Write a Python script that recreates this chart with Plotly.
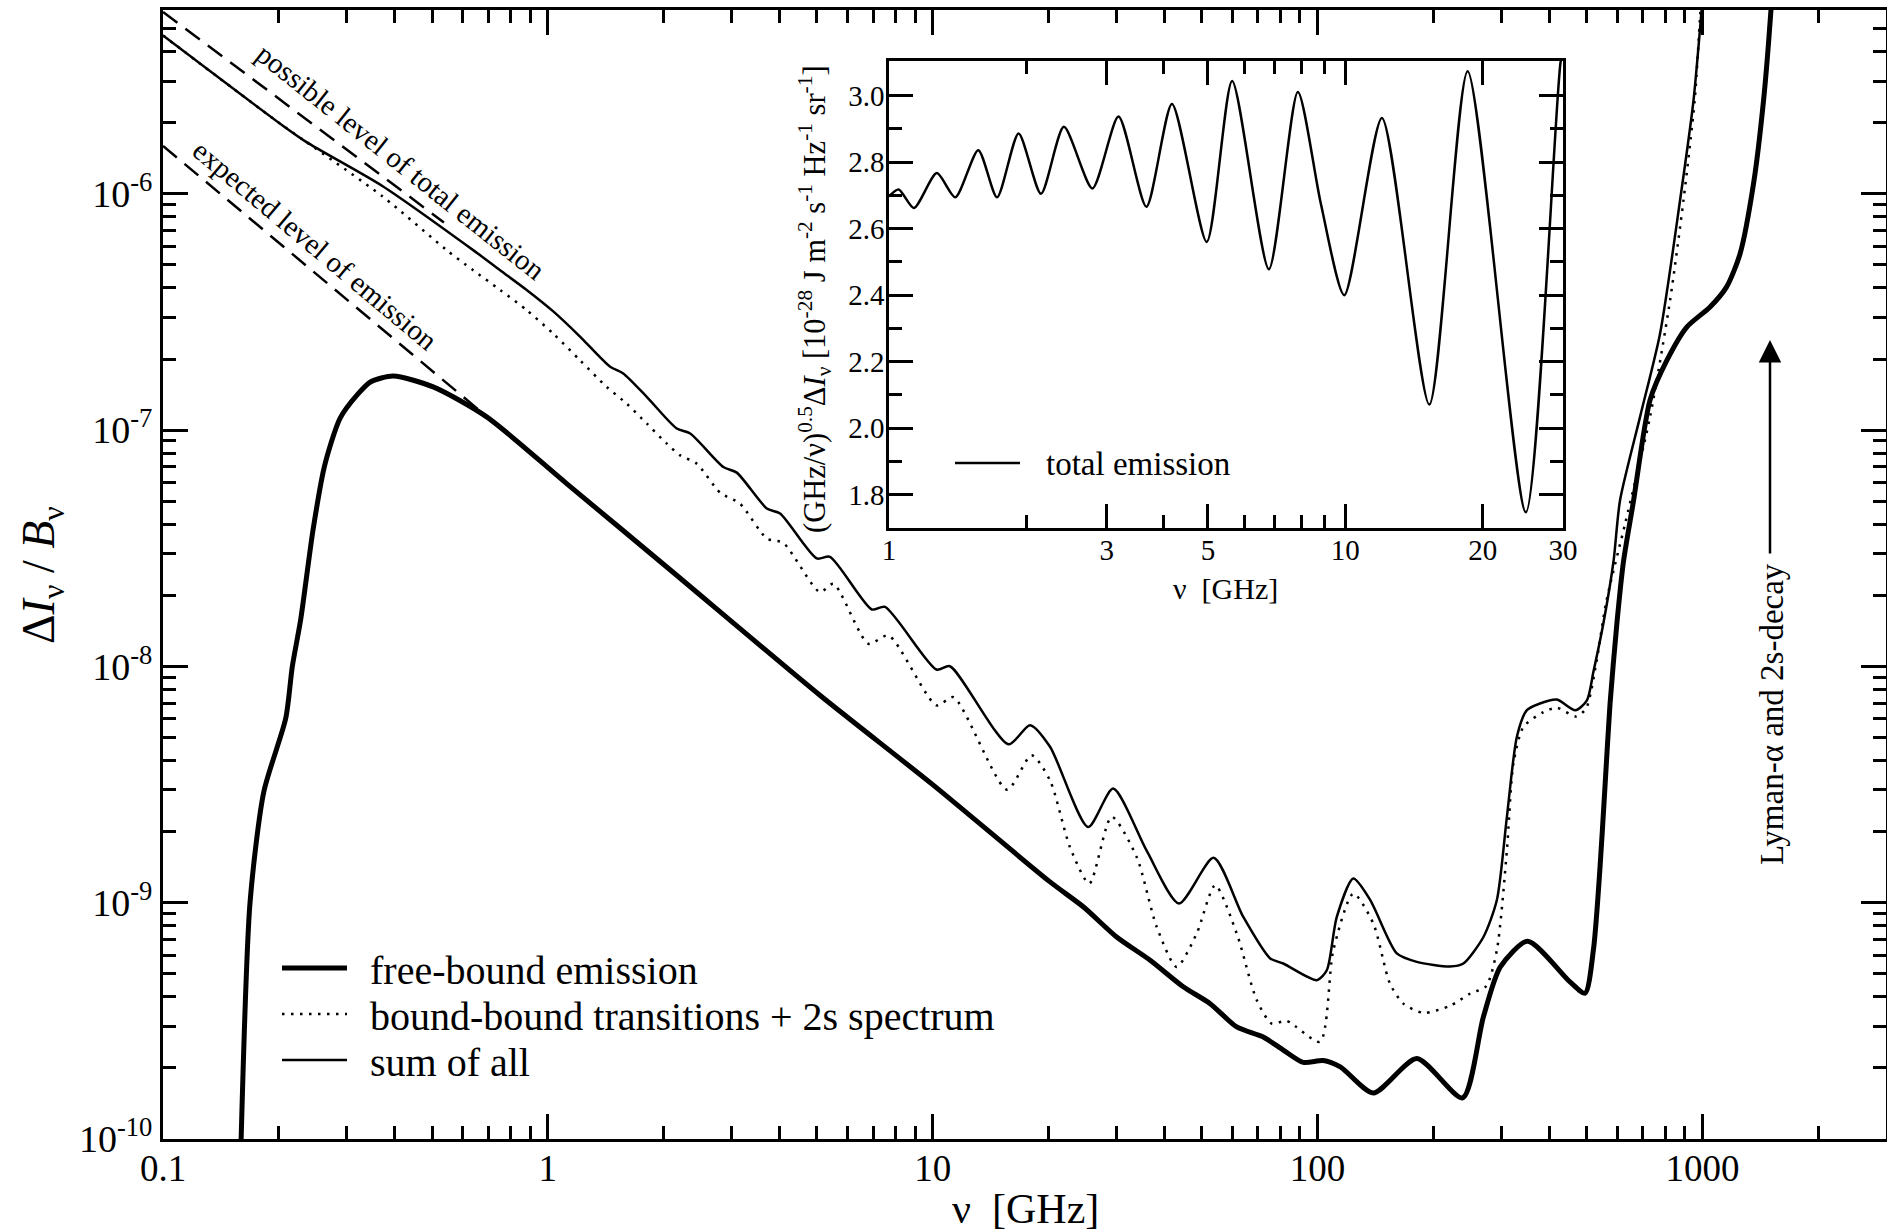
import numpy as np
import plotly.graph_objects as go

# --- main panel: Delta I_nu / B_nu versus nu [GHz] ---
# free-bound emission (thick line)
fb_nu = [0.1596, 0.1683, 0.1828, 0.2084, 0.2168, 0.228, 0.2455, 0.263, 0.2884, 0.3199,
         0.3467, 0.3963, 0.5035, 0.6934, 1.119, 2.037, 5.093, 10.0, 20.18, 24.66,
         30.06, 36.73, 44.77, 52.6, 61.66, 72.28, 81.47, 91.83, 103.5, 114.6,
         139.6, 181.1, 238.2, 269.8, 298.5, 351.6, 452.9, 495.5, 521.2, 542.0,
         558.5, 575.4, 599.8, 623.7, 662.2, 731.1, 809.1, 912.0, 1047, 1156,
         1253, 1358, 1442, 1507, 1549]
fb_val = [1.0e-10, 1.0e-9, 2.95e-9, 6.03e-9, 1.0e-8, 1.585e-8, 3.8e-8, 7.08e-8, 1.122e-7, 1.413e-7,
          1.603e-7, 1.694e-7, 1.524e-7, 1.138e-7, 5.94e-8, 2.636e-8, 7.55e-9, 3.16e-9, 1.225e-9, 9.59e-10,
          7.16e-10, 5.71e-10, 4.41e-10, 3.74e-10, 2.98e-10, 2.7e-10, 2.38e-10, 2.11e-10, 2.15e-10, 2.02e-10,
          1.567e-10, 2.19e-10, 1.493e-10, 3.29e-10, 5.35e-10, 6.87e-10, 4.62e-10, 4.14e-10, 6.35e-10, 1.409e-9,
          3.12e-9, 6.92e-9, 1.531e-8, 2.78e-8, 5.01e-8, 1.34e-7, 1.977e-7, 2.735e-7, 3.32e-7, 4.04e-7,
          5.58e-7, 1.104e-6, 2.49e-6, 5.98e-6, 1.26e-5]

# bound-bound transitions + 2s spectrum (dotted line)
bb_nu = [0.1, 0.2, 0.2355, 0.3715, 0.5458, 0.6397, 0.7516, 0.881, 1.033, 1.212,
         1.422, 1.603, 1.807, 2.037, 2.208, 2.438, 2.805, 3.155, 3.707, 4.093,
         5.093, 5.521, 6.808, 7.674, 10.23, 11.32, 15.6, 18.07, 20.18, 22.75,
         25.53, 29.17, 33.88, 38.19, 43.05, 48.53, 54.2, 61.66, 69.5, 76.03,
         83.18, 101.4, 109.9, 123.9, 139.6, 154.2, 167.1, 188.4, 220.8, 249.5,
         274.2, 292.4, 310.5, 322.8, 342.8, 386.4, 418.8, 469.9, 498.9, 529.7,
         562.3, 631.0, 731.1, 824.1, 893.1, 955.0, 986.3, 1012]
bb_val = [4.68e-6, 2.0e-6, 1.66e-6, 9.77e-7, 5.78e-7, 4.75e-7, 3.92e-7, 3.22e-7, 2.56e-7, 1.977e-7,
          1.524e-7, 1.294e-7, 1.067e-7, 8.77e-8, 7.82e-8, 7.21e-8, 5.43e-8, 4.89e-8, 3.48e-8, 3.33e-8,
          2.065e-8, 2.239e-8, 1.247e-8, 1.352e-8, 6.84e-9, 7.41e-9, 3.01e-9, 4.21e-9, 3.29e-9, 1.714e-9,
          1.205e-9, 2.31e-9, 1.563e-9, 7.91e-10, 5.35e-10, 7.41e-10, 1.186e-9, 7.41e-10, 3.87e-10, 3.08e-10,
          3.16e-10, 2.58e-10, 6.3e-10, 1.094e-9, 8.17e-10, 4.55e-10, 3.74e-10, 3.42e-10, 3.66e-10, 4.13e-10,
          4.43e-10, 6.3e-10, 1.667e-9, 3.88e-9, 5.55e-9, 6.41e-9, 6.68e-9, 6.14e-9, 6.65e-9, 1.028e-8,
          1.871e-8, 4.07e-8, 1.138e-7, 3.54e-7, 9.4e-7, 2.49e-6, 5.6e-6, 1.0e-5]

# sum of all (thin line)
sum_nu = [0.1, 0.2, 0.2355, 0.3715, 0.6397, 0.7516, 0.881, 1.033, 1.212, 1.452,
          1.57, 1.807, 2.163, 2.344, 2.858, 3.097, 3.707, 4.013, 5.0, 5.408,
          6.95, 7.516, 10.23, 11.09, 15.74, 17.91, 20.18, 25.35, 29.44, 35.97,
          43.65, 53.7, 64.12, 75.34, 81.47, 99.54, 105.7, 112.2, 123.9, 137.1,
          160.7, 181.1, 220.8, 239.3, 269.8, 292.4, 310.5, 329.6, 349.9, 378.4,
          418.8, 467.7, 501.2, 521.2, 553.4, 587.5, 611.0, 688.7, 776.2, 875.0,
          948.4, 995.4, 1023]
sum_val = [4.68e-6, 2.0e-6, 1.66e-6, 1.08e-6, 5.78e-7, 4.75e-7, 3.92e-7, 3.18e-7, 2.49e-7, 1.854e-7,
           1.738e-7, 1.384e-7, 1.016e-7, 9.68e-8, 6.98e-8, 6.61e-8, 4.66e-8, 4.44e-8, 2.864e-8, 2.911e-8,
           1.742e-8, 1.786e-8, 9.7e-9, 1.002e-8, 4.68e-9, 5.64e-9, 4.57e-9, 2.09e-9, 3.04e-9, 1.66e-9,
           9.93e-10, 1.549e-9, 8.71e-10, 5.81e-10, 5.53e-10, 4.7e-10, 5.18e-10, 8.71e-10, 1.265e-9, 1.026e-9,
           6.1e-10, 5.62e-10, 5.37e-10, 5.53e-10, 7.16e-10, 1.026e-9, 2.31e-9, 5.04e-9, 6.53e-9, 6.97e-9,
           7.24e-9, 6.52e-9, 7.19e-9, 9.51e-9, 1.531e-8, 2.78e-8, 5.05e-8, 1.138e-7, 2.56e-7, 9.4e-7,
           2.49e-6, 5.98e-6, 1.0e-5]

# dashed guide lines
possible_nu = [0.1, 0.537]
possible_val = [5.89e-6, 7.57e-7]
expected_nu = [0.1, 0.752]
expected_val = [1.596e-6, 1.023e-7]

# --- inset: (GHz/nu)^0.5 * total emission ---
inset_nu = [1.0, 1.05, 1.134, 1.273, 1.397, 1.569, 1.725, 1.923, 2.153, 2.417,
            2.791, 3.184, 3.665, 4.17, 4.97, 5.65, 6.8, 7.87, 8.84, 9.95,
            12.03, 15.28, 18.54, 24.87, 29.6, 30.5]
inset_val = [2.697, 2.718, 2.662, 2.767, 2.694, 2.836, 2.694, 2.886, 2.705, 2.906,
             2.721, 2.937, 2.666, 2.975, 2.56, 3.044, 2.478, 3.011, 2.675, 2.4,
             2.933, 2.071, 3.073, 1.747, 3.095, 3.2]

# ticks
x_ticks = [0.1, 1, 10, 100, 1000]
x_ticktext = ["0.1", "1", "10", "100", "1000"]
y_ticks = [1e-10, 1e-9, 1e-8, 1e-7, 1e-6]
y_ticktext = ["10<sup>-10</sup>", "10<sup>-9</sup>", "10<sup>-8</sup>", "10<sup>-7</sup>", "10<sup>-6</sup>"]
inset_x_ticks = [1, 3, 5, 10, 20, 30]
inset_x_ticktext = ["1", "3", "5", "10", "20", "30"]
inset_y_ticks = [1.8, 2.0, 2.2, 2.4, 2.6, 2.8, 3.0]
inset_y_ticktext = ["1.8", "2.0", "2.2", "2.4", "2.6", "2.8", "3.0"]

x_minor = [m * 10.0 ** e for e in range(-1, 4) for m in range(2, 10) if m * 10.0 ** e <= 3000]
y_minor = [m * 10.0 ** e for e in range(-10, -5) for m in range(2, 10) if m * 10.0 ** e <= 6e-6]
inset_x_minor = [2, 4, 6, 7, 8, 9]
inset_y_minor = [1.9, 2.1, 2.3, 2.5, 2.7, 2.9]

FONT = "Liberation Serif"
W, H = 1887, 1231
L, R, T, B = 163, 1, 10, 92


def px_x(x):
    return (x - L) / (W - L - R)


def px_y(y):
    return (H - B - y) / (H - T - B)


fig = go.Figure()

line_kw = dict(color="black", shape="spline", smoothing=0.7)
fig.add_trace(go.Scatter(x=possible_nu, y=possible_val, mode="lines",
                         line=dict(color="black", width=2.5, dash="18px,10px")))
fig.add_trace(go.Scatter(x=expected_nu, y=expected_val, mode="lines",
                         line=dict(color="black", width=2.5, dash="18px,10px")))
fig.add_trace(go.Scatter(x=bb_nu, y=bb_val, mode="lines", name="bound-bound transitions + 2s spectrum",
                         line=dict(width=2.5, dash="2.5px,6.5px", **line_kw)))
fig.add_trace(go.Scatter(x=sum_nu, y=sum_val, mode="lines", name="sum of all",
                         line=dict(width=2.5, **line_kw)))
fig.add_trace(go.Scatter(x=fb_nu, y=fb_val, mode="lines", name="free-bound emission",
                         line=dict(width=5, **line_kw)))
fig.add_trace(go.Scatter(x=inset_nu, y=inset_val, mode="lines", name="total emission",
                         line=dict(width=2.5, **line_kw), xaxis="x2", yaxis="y2"))

axis_kw = dict(showline=True, linecolor="black", mirror="ticks", ticks="inside",
               tickcolor="black", showgrid=False, zeroline=False, automargin=False)

fig.update_layout(
    template="none",
    width=W, height=H, autosize=False,
    margin=dict(l=L, r=R, t=T, b=B, pad=0),
    paper_bgcolor="white", plot_bgcolor="white",
    showlegend=False,
    font=dict(family=FONT, color="black", size=37),
    xaxis=dict(type="log", range=[-1, np.log10(3000)], domain=[0, 1], anchor="y",
               linewidth=3, ticklen=25, tickwidth=2.5, ticklabelstandoff=-5,
               tickvals=x_ticks, ticktext=x_ticktext, tickfont=dict(size=37),
               minor=dict(ticks="inside", ticklen=13, tickwidth=2.5, tickcolor="black", tickvals=x_minor),
               **axis_kw),
    yaxis=dict(type="log", range=[-10, np.log10(6e-6)], domain=[0, 1], anchor="x",
               linewidth=3, ticklen=25, tickwidth=2.5, ticklabelstandoff=0,
               tickvals=y_ticks, ticktext=y_ticktext, tickfont=dict(size=38),
               minor=dict(ticks="inside", ticklen=13, tickwidth=2.5, tickcolor="black", tickvals=y_minor),
               **axis_kw),
    xaxis2=dict(type="log", range=[0, np.log10(30)], domain=[px_x(889), px_x(1563)], anchor="y2",
                linewidth=2.5, ticklen=24, tickwidth=2.5, ticklabelstandoff=-6,
                tickvals=inset_x_ticks, ticktext=inset_x_ticktext, tickfont=dict(size=29),
                minor=dict(ticks="inside", ticklen=13, tickwidth=2.5, tickcolor="black", tickvals=inset_x_minor),
                **axis_kw),
    yaxis2=dict(range=[1.70, 3.104], domain=[px_y(528), px_y(61)], anchor="x2",
                linewidth=2.5, ticklen=24, tickwidth=2.5, ticklabelstandoff=-4,
                tickvals=inset_y_ticks, ticktext=inset_y_ticktext, tickfont=dict(size=29),
                minor=dict(ticks="inside", ticklen=13, tickwidth=2.5, tickcolor="black", tickvals=inset_y_minor),
                **axis_kw),
)

ann = []
# axis titles
ann.append(dict(x=px_x(1025), y=px_y(1208), text="\u03bd\u00a0\u00a0[GHz]", font=dict(size=42), height=43))
ann.append(dict(x=px_x(42), y=px_y(575), text="\u0394<i>I</i><sub>\u03bd</sub> / <i>B</i><sub>\u03bd</sub>",
                textangle=-90, font=dict(size=46)))
ann.append(dict(x=px_x(1225), y=px_y(588), text="\u03bd\u00a0\u00a0[GHz]", font=dict(size=30)))
ann.append(dict(x=px_x(814), y=px_y(299), textangle=-90, font=dict(size=30.5),
                text="(GHz/\u03bd)<sup>0.5</sup>\u0394<i>I</i><sub>\u03bd</sub> [10<sup>-28</sup> J m<sup>-2</sup> "
                     "s<sup>-1</sup> Hz<sup>-1</sup> sr<sup>-1</sup>]"))
# line labels
ann.append(dict(x=px_x(401), y=px_y(162), text="possible level of total emission", textangle=38.5,
                font=dict(size=29)))
ann.append(dict(x=px_x(315), y=px_y(245), text="expected level of emission", textangle=40,
                font=dict(size=29)))
# Lyman-alpha arrow and label
ann.append(dict(x=px_x(1770), y=px_y(340), ax=0, ay=215, text="", showarrow=True,
                arrowhead=2, arrowsize=1.8, arrowwidth=2.5, arrowcolor="black"))
ann.append(dict(x=px_x(1772), y=px_y(714), text="Lyman-\u03b1 and 2s-decay", textangle=-90,
                font=dict(size=33)))

# legend of main panel
legend_rows = [("free-bound emission", 5, "solid", 968),
               ("bound-bound transitions + 2s spectrum", 2.5, "2.5px,6.5px", 1014),
               ("sum of all", 2.5, "solid", 1060)]
shapes = []
for label, width, dash, yy in legend_rows:
    shapes.append(dict(type="line", xref="paper", yref="paper", x0=px_x(282), x1=px_x(347),
                       y0=px_y(yy), y1=px_y(yy), line=dict(color="black", width=width, dash=dash)))
    ann.append(dict(x=px_x(368), y=px_y(yy + 2), text=label, xanchor="left", font=dict(size=40)))
# legend of inset
shapes.append(dict(type="line", xref="paper", yref="paper", x0=px_x(955), x1=px_x(1020),
                   y0=px_y(463), y1=px_y(463), line=dict(color="black", width=2.5)))
ann.append(dict(x=px_x(1044), y=px_y(464), text="total emission", xanchor="left", font=dict(size=33)))

for a in ann:
    a.setdefault("xref", "paper")
    a.setdefault("yref", "paper")
    a.setdefault("showarrow", False)
    a.setdefault("xanchor", "center")
    a.setdefault("yanchor", "middle")

fig.update_layout(annotations=ann, shapes=shapes)

# the page body has a default 8px margin; drop it so the figure sits at the window corner
fig.write_html("out.html", config={"displayModeBar": False, "responsive": False},
               post_script="document.body.style.margin = '0px';")
